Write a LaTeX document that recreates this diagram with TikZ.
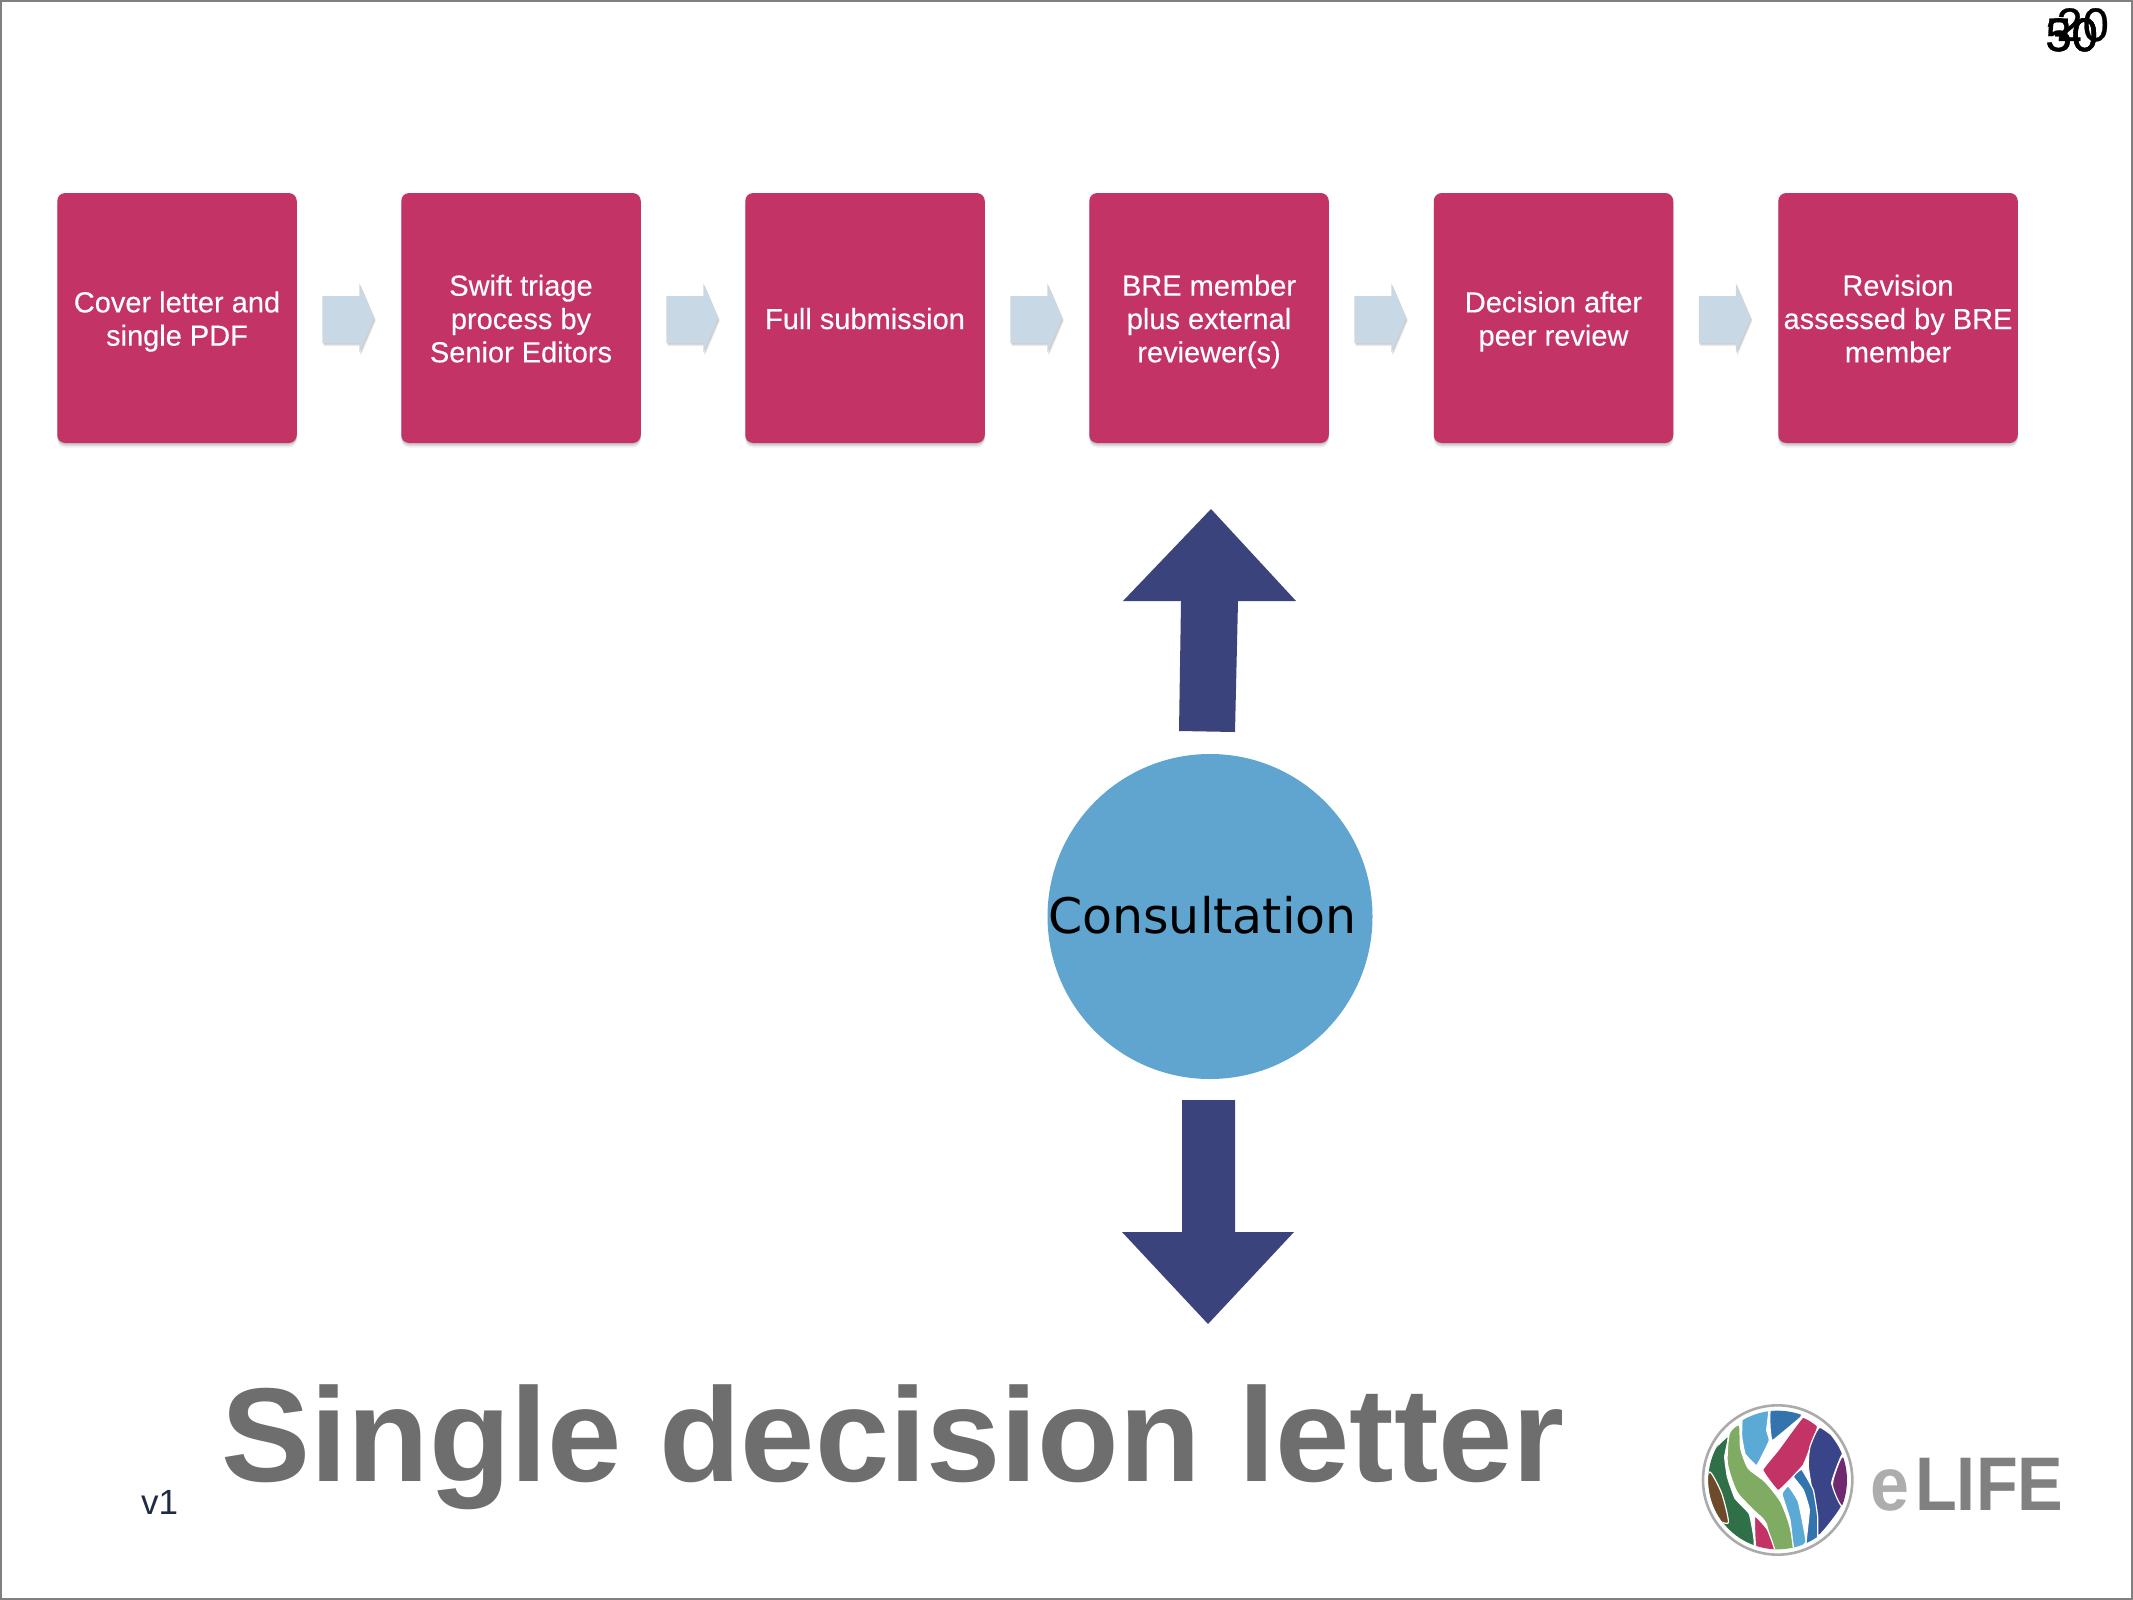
\documentclass[tikz,border=0pt]{standalone}
\usepackage{fontspec}
\setmainfont{Liberation Sans}
\newfontfamily\consfont{DejaVu Sans}
\newfontfamily\boxfont[FakeBold=0.25]{Liberation Sans}
\newfontfamily\numfont[FakeBold=0.6]{Liberation Sans}
\usetikzlibrary{shadows,calc}
\definecolor{crimson}{HTML}{C43366}
\definecolor{paleblue}{HTML}{C8D8E4}
\definecolor{navy}{HTML}{3A437C}
\definecolor{disc}{HTML}{5FA5CF}
\definecolor{titlegrey}{HTML}{6E6E6E}
\definecolor{vcol}{HTML}{1F2A44}
\definecolor{ringgrey}{HTML}{ABABAB}
\definecolor{lgdark}{HTML}{2F7048}
\definecolor{lglight}{HTML}{7FAB62}
\definecolor{lgsky}{HTML}{5BAAD6}
\definecolor{lgblue}{HTML}{3373AE}
\definecolor{lgnavy}{HTML}{3A4488}
\definecolor{lgpurple}{HTML}{6F2A72}
\definecolor{lgbrown}{HTML}{6F4A2A}
\newcommand{\tb}{\rule{0pt}{28pt}}
\newcommand{\te}{\rule[-6pt]{0pt}{6pt}}
\newcommand{\flowarrow}[1]{%
  \path[smallarrow]
    ([shift={(25.5,-22)}]#1.east) -- ([shift={(62.5,-22)}]#1.east) -- ([shift={(62.5,-35)}]#1.east)
    -- ([shift={(77.5,0)}]#1.east) -- ([shift={(62.5,35)}]#1.east) -- ([shift={(62.5,25)}]#1.east)
    -- ([shift={(25.5,25)}]#1.east) -- cycle;}
\tikzset{
  x=1pt,y=-1pt,
  stagebox/.style={rectangle,rounded corners=8pt,fill=crimson,text=white,
    minimum width=239.5pt,minimum height=250pt,inner sep=0pt,outer sep=0pt,align=center,
    font=\fontsize{29}{33.3}\selectfont\boxfont,
    drop shadow={shadow xshift=0pt,shadow yshift=-1.5pt,opacity=.10,fill=black},
    drop shadow={shadow xshift=0pt,shadow yshift=-3pt,opacity=.08,fill=black},
    drop shadow={shadow xshift=0pt,shadow yshift=-4.5pt,opacity=.06,fill=black}},
  smallarrow/.style={fill=paleblue,
    drop shadow={shadow xshift=1pt,shadow yshift=-1.5pt,opacity=.12,fill=black},
    drop shadow={shadow xshift=1.5pt,shadow yshift=-3pt,opacity=.08,fill=black}},
  bigarrow/.style={fill=navy},
  pagenum/.style={anchor=base east,inner sep=0pt,font=\fontsize{47}{50}\selectfont\numfont,text=black},
  lgpart/.style={draw=white,line width=1.2pt,line join=round},
}
\begin{document}
\begin{tikzpicture}
\useasboundingbox (0,0) rectangle (2133,1600);
\fill[white] (0,0) rectangle (2133,1600);
\draw[gray,line width=1.6pt] (0.8,0.8) rectangle (2132.2,1599.2);

\node[pagenum] (n20) at (2109,41) {20};
\node[pagenum] (n30) at (2098,51) {30};
\node[pagenum] (n50) at (2098,51) {50};

\node[stagebox] (b1) at (177,318) {\tb Cover letter and\\single PDF\te};
\node[stagebox] (b2) at (521,318) {\tb Swift triage\\process by\\Senior Editors\te};
\node[stagebox] (b3) at (865,318) {\tb Full submission\te};
\node[stagebox] (b4) at (1209,318) {\tb BRE member\\plus external\\reviewer(s)\te};
\node[stagebox] (b5) at (1553.5,318) {\tb Decision after\\peer review\te};
\node[stagebox] (b6) at (1898,318) {\tb Revision\\assessed by BRE\\member\te};

\flowarrow{b1}
\flowarrow{b2}
\flowarrow{b3}
\flowarrow{b4}
\flowarrow{b5}

\node[circle,fill=disc,minimum size=325pt,inner sep=0pt,outer sep=0pt] (cons) at (1210,916.5) {};
\node[anchor=base west,inner sep=0pt,font=\fontsize{49}{52}\selectfont\consfont,text=black] (conslabel) at (1048,933) {Consultation};

% up arrow: circle towards the BRE box
\coordinate (uptip) at ($(b4.south)+(2,66)$);
\fill[bigarrow] (uptip) -- ++(85,92) -- ++(-58,0) -- ++(-3,131) -- ++(-56,-1) -- ++(2,-130) -- ++(-58,0) -- cycle;
% down arrow
\coordinate (downtop) at ($(cons.south)+(-28,21)$);
\fill[bigarrow] (downtop) -- ++(53,0) -- ++(0,132) -- ++(59,0) -- ++(-86,92) -- ++(-86,-92) -- ++(60,0) -- cycle;

\node[anchor=base west,inner sep=0pt,font=\fontsize{35}{38}\selectfont,text=vcol] (ver) at (141,1514) {v1};
\node[anchor=base west,inner sep=0pt,font=\fontsize{133.6}{140}\selectfont\bfseries,text=titlegrey] (title) at (221,1481) {Single decision letter};

% logo
\begin{scope}[shift={(1650,1370)},x=0.3333pt,y=-0.3333pt]
  \draw[ringgrey,line width=2.6pt,fill=white] (383,330) circle[radius=224];
  \begin{scope}
    \clip (383,330) circle[radius=208];
    \path[lgpart,fill=lgdark] plot[smooth cycle,tension=.2] coordinates {(234,198) (140,300) (200,520) (312,528) (298,432) (255,385) (232,320) (224,260)};
    \path[lgpart,fill=lgbrown] plot[smooth cycle,tension=.4] coordinates {(180,306) (215,370) (235,458) (190,440) (165,360)};
    \path[lgpart,fill=lglight] plot[smooth cycle,tension=.4] coordinates {(268,165) (238,190) (232,280) (260,365) (310,420) (348,460) (375,560) (430,550) (420,470) (392,395) (345,335) (295,295) (272,235)};
    \path[lgpart,fill=lgsky] plot[smooth cycle,tension=.15] coordinates {(278,140) (356,115) (350,180) (358,212) (320,287) (285,252) (275,200)};
    \path[lgpart,fill=lgblue] plot[smooth cycle,tension=.15] coordinates {(362,115) (455,125) (452,142) (367,212) (360,170)};
    \path[lgpart,fill=crimson] plot[smooth cycle,tension=.15] coordinates {(458,142) (503,170) (460,285) (385,362) (338,300) (385,240)};
    \path[lgpart,fill=lgnavy] plot[smooth cycle,tension=.3] coordinates {(510,172) (585,230) (572,262) (545,340) (575,408) (505,497) (492,400) (475,290) (480,230)};
    \path[lgpart,fill=lgpurple] plot[smooth cycle,tension=.4] coordinates {(578,260) (610,320) (577,408) (548,350) (555,310)};
    \path[lgpart,fill=lgblue] plot[smooth cycle,tension=.2] coordinates {(430,320) (455,298) (490,360) (503,440) (502,505) (468,525) (478,420) (460,360)};
    \path[lgpart,fill=lgsky] plot[smooth cycle,tension=.2] coordinates {(396,372) (415,348) (445,395) (468,515) (432,540) (420,450)};
    \path[lgpart,fill=crimson] plot[smooth cycle,tension=.2] coordinates {(314,438) (352,478) (375,545) (318,535)};
  \end{scope}
\end{scope}
\node[anchor=base west,inner sep=0pt,font=\fontsize{76}{80}\selectfont\bfseries,text=black!32,transform shape,xscale=.92] (logoe) at (1870,1510) {e};
\node[anchor=base west,inner sep=0pt,font=\fontsize{76}{80}\selectfont\bfseries,text=black!50,transform shape,xscale=.9] (logolife) at (1915,1510) {LIFE};
\end{tikzpicture}
\end{document}
